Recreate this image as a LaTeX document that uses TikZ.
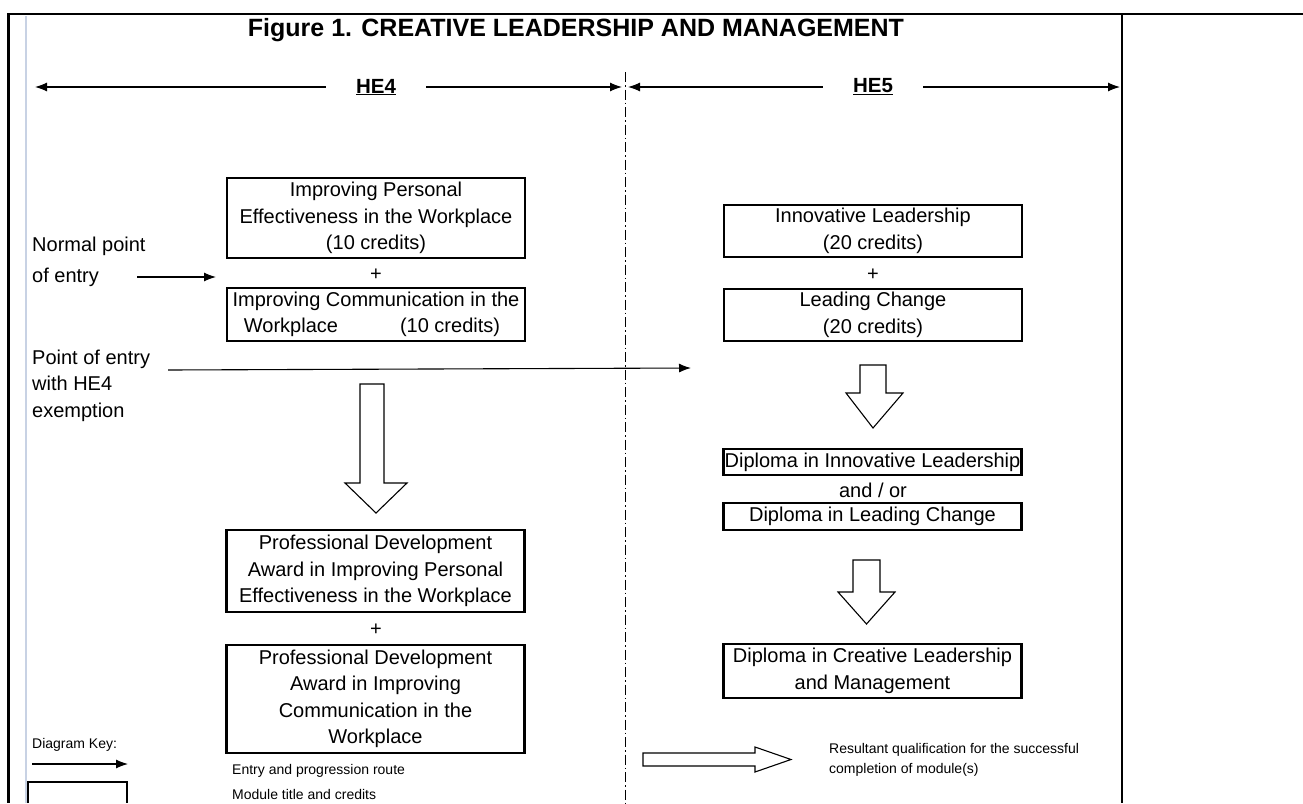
\documentclass[tikz,border=0pt]{standalone}
\usepackage{fontspec}
\setmainfont{Liberation Sans}
\usetikzlibrary{arrows.meta}
\newcommand\bodyfont{\fontsize{20}{26.5}\selectfont}
\newcommand\keyfont{\fontsize{14}{20}\selectfont}
\definecolor{framelight}{RGB}{200,210,228}
\begin{document}
\begin{tikzpicture}[x=1pt,y=-1pt,
  box/.style={draw, line width=1.3pt, minimum width=298pt, inner sep=0pt, align=center, font=\bodyfont},
  thickbox/.style={box, line width=2.7pt},
  plain/.style={inner sep=0pt, font=\bodyfont, align=center},
  entry/.style={inner sep=0pt, font=\bodyfont, align=left, anchor=west},
  hdr/.style={inner xsep=30pt, inner ysep=0pt, font=\fontsize{20.5}{24}\selectfont\bfseries},
  arr/.style={line width=1.1pt, -{Latex[length=12pt,width=9pt]}},
  hollow/.style={draw, line width=1.1pt, fill=white, line join=miter},
  keytext/.style={inner sep=0pt, font=\keyfont, align=left, anchor=west},
  divider/.style={line width=1pt, dash pattern=on 10pt off 3pt on 1.5pt off 3pt}
]
\useasboundingbox (0,0) rectangle (1303,803);
\fill[white] (0,0) rectangle (1303,803);
% frame
\draw[line width=2.5pt] (7,14) -- (1303,14);
\draw[line width=3pt] (8,14) -- (8,803);
\draw[framelight, line width=1.2pt] (26,16) -- (26,803);
\draw[line width=1.5pt] (1122,14) -- (1122,803);
% title
\node[inner sep=0pt, font=\fontsize{25}{28}\selectfont\bfseries] (title) at (576,30) {Figure 1. CREATIVE LEADERSHIP AND MANAGEMENT};
% level headers
\node[hdr] (he4) at (376,87) {\underline{HE4}};
\node[hdr] (he5) at (873,87) {\underline{HE5}};
\coordinate (he4L) at (35,87);
\coordinate (he4R) at (622,87);
\coordinate (he5L) at (628,87);
\coordinate (he5R) at (1120,87);
\draw[arr] (he4.west) -- (he4L);
\draw[arr] (he4.east) -- (he4R);
\draw[arr] (he5.west) -- (he5L);
\draw[arr] (he5.east) -- (he5R);
% divider
\coordinate (divT) at (625,72);
\coordinate (divB) at (625,803);
\draw[divider] (divT) -- (divB);
% HE4 column
\node[box, minimum height=80pt] (b1) at (376,218) {Improving Personal\\Effectiveness in the Workplace\\(10 credits)};
\node[plain] (plus1) at (376,275) {+};
\node[box, minimum height=53pt] (b2) at (376,314.5) {Improving Communication in the\\\hspace*{-8pt}Workplace\hspace{62pt}(10 credits)};
\node[thickbox, minimum height=82pt] (b3) at (375.5,571) {Professional Development\\Award in Improving Personal\\Effectiveness in the Workplace};
\node[plain] (plus2) at (376,630) {+};
\node[thickbox, minimum height=108pt] (b4) at (375.5,699) {Professional Development\\Award in Improving\\Communication in the\\Workplace};
% HE5 column
\node[box, minimum height=52pt] (b5) at (873,231) {Innovative Leadership\\(20 credits)};
\node[plain] (plus3) at (873,275) {+};
\node[box, minimum height=52pt] (b6) at (873,315) {Leading Change\\(20 credits)};
\node[thickbox, minimum height=26pt] (b7) at (872.5,462) {Diploma in Innovative Leadership};
\node[plain] (andor) at (873,490) {and / or};
\node[thickbox, minimum height=27pt] (b8) at (872.5,516.5) {Diploma in Leading Change};
\node[thickbox, minimum height=54pt] (b9) at (872.5,671) {Diploma in Creative Leadership\\and Management};
% entry labels and arrows
\node[entry, font=\fontsize{20}{31}\selectfont] (normal) at (32,262) {Normal point\\of entry};
\coordinate (n1) at (137,277);
\coordinate (n2) at (216,277);
\draw[arr] (n1) -- (n2);
\node[entry] (exempt) at (32,385.5) {Point of entry\\with HE4\\exemption};
\coordinate (e1) at (168,370);
\coordinate (e2) at (691,368);
\draw[arr] (e1) -- (e2);
% hollow progression arrows
\draw[hollow] (360,384) -- (384,384) -- (384,483) -- (407,483) -- (376,513) -- (345,483) -- (360,483) -- cycle;
\draw[hollow] (860,365) -- (886,365) -- (886,393) -- (903,393) -- (873,428) -- (846,393) -- (860,393) -- cycle;
\draw[hollow] (853,560) -- (880,560) -- (880,592) -- (895,592) -- (866.5,624) -- (838,592) -- (853,592) -- cycle;
% key
\node[keytext] (keyhead) at (32,745) {Diagram Key:};
\coordinate (k1) at (32,764);
\coordinate (k2) at (128,764);
\draw[arr] (k1) -- (k2);
\node[keytext] (keyroute) at (232,771) {Entry and progression route};
\draw[line width=2.7pt] (28,803) -- (28,782) -- (127,782) -- (127,803);
\node[keytext] (keymodule) at (232,794) {Module title and credits};
\draw[hollow] (643,753) -- (755,753) -- (755,747) -- (791,759.5) -- (755,772) -- (755,766) -- (643,766) -- cycle;
\node[keytext] (keyresult) at (829,760) {Resultant qualification for the successful\\completion of module(s)};
\end{tikzpicture}
\end{document}
